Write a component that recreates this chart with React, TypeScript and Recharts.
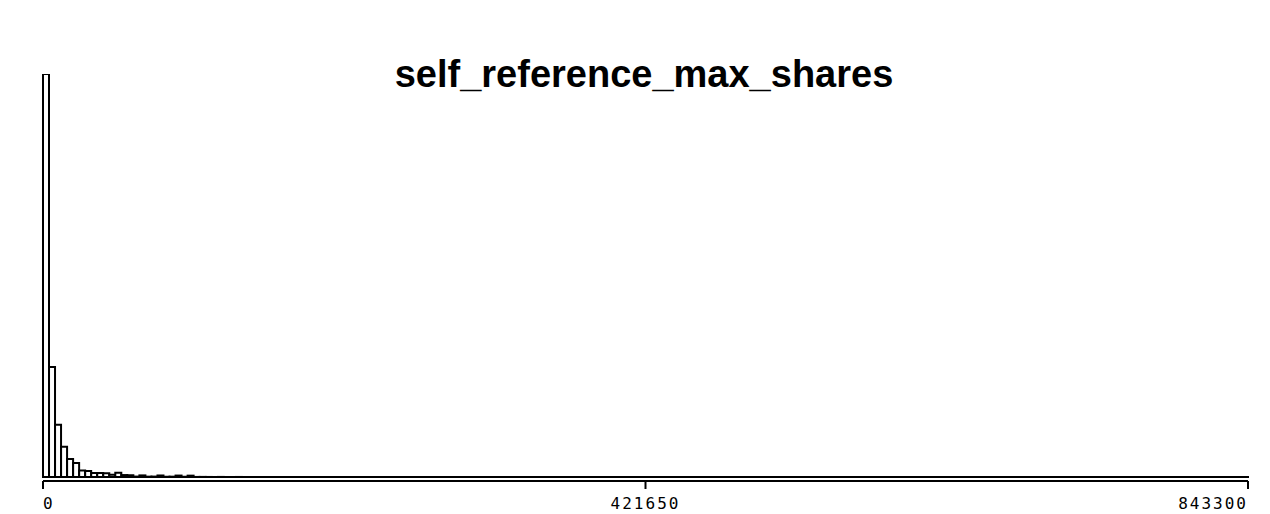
import React from 'react';
import { BarChart, Bar, XAxis, YAxis, ReferenceLine } from 'recharts';

const title = 'self_reference_max_shares';

// histogram counts, 200 bins over [0, 843300]
const counts: number[] = [
  23800, 6500, 3080, 1780, 1070, 830, 380, 350, 240, 230,
  225, 130, 245, 115, 110, 25, 95, 20, 25, 90,
  15, 20, 85, 15, 80, 4, 6, 3, 2, 5,
  2, 1, 3, 1, 2, 1, 2, 1, 1, 1,
  1, 2, 1, 1, 1, 1, 1, 1, 0, 1,
  1, 0, 1, 1, 0, 1, 0, 0, 1, 0,
  1, 0, 0, 1, 0, 0, 1, 0, 0, 0,
  1, 0, 0, 0, 1, 0, 0, 0, 0, 1,
  0, 0, 0, 0, 0, 1, 0, 0, 0, 0,
  0, 0, 1, 0, 0, 0, 0, 0, 0, 0,
  0, 0, 0, 0, 0, 0, 1, 0, 0, 0,
  0, 0, 0, 0, 0, 0, 0, 0, 0, 0,
  0, 0, 0, 0, 0, 0, 0, 1, 0, 0,
  0, 0, 0, 0, 0, 0, 0, 0, 0, 0,
  0, 0, 0, 0, 0, 0, 0, 0, 0, 0,
  0, 0, 0, 0, 0, 0, 0, 0, 0, 0,
  0, 0, 0, 0, 0, 0, 0, 0, 0, 0,
  0, 0, 0, 0, 0, 0, 0, 0, 0, 0,
  0, 0, 0, 0, 0, 0, 0, 0, 0, 0,
  0, 0, 0, 0, 0, 0, 0, 0, 0, 1,
];

// tick positions given as bin indices (left edge of bin 0, left edge of bin 100, right edge of bin 199)
const tickBins = [0, 100, 199];
const tickLabels = ['0', '421650', '843300'];

const data = counts.map((c, i) => ({ bin: i, count: c }));

const W = 1270;
const H = 514;
const M = { top: 74, right: 22, left: 43, bottom: 0 };
const plotW = W - M.left - M.right;
const band = plotW / counts.length;
const yMax = counts[0];
const yMin = -Math.round((yMax * 4) / 403);

const Tick = (props: any) => {
  const { x, y, index } = props;
  const last = index === tickBins.length - 1;
  const anchor = index === 0 ? 'start' : last ? 'end' : 'middle';
  const tx = last ? x + band / 2 : x - band / 2;
  return (
    <g>
      <line x1={tx} y1={y} x2={tx} y2={y + 8} stroke="#000" strokeWidth={2} />
      <text
        x={tx}
        y={y + 17}
        dy="0.71em"
        textAnchor={anchor}
        fontFamily="DejaVu Sans Mono"
        fontSize={16}
        letterSpacing={2}
        fill="#000"
      >
        {tickLabels[index]}
      </text>
    </g>
  );
};

export default function App() {
  return (
    <div style={{ position: 'absolute', left: 0, top: 0, width: W, height: H, background: '#fff' }}>
      <BarChart
        width={W}
        height={H}
        data={data}
        margin={M}
        barCategoryGap={0}
        barGap={0}
      >
        <XAxis
          dataKey="bin"
          type="category"
          ticks={tickBins}
          interval={0}
          height={33}
          axisLine={{ stroke: '#000', strokeWidth: 2 }}
          tickLine={false}
          tickSize={0}
          tickMargin={0}
          tick={<Tick />}
        />
        <YAxis hide type="number" domain={[yMin, yMax]} allowDataOverflow />
        <Bar
          dataKey="count"
          fill="#fff"
          stroke="#000"
          strokeWidth={2}
          isAnimationActive={false}
        />
        <ReferenceLine y={0} stroke="#000" strokeWidth={2} />
      </BarChart>
      <svg
        width={W}
        height={H}
        style={{ position: 'absolute', left: 0, top: 0, pointerEvents: 'none' }}
      >
        <text
          x={644}
          y={87}
          textAnchor="middle"
          fontFamily="Liberation Sans, Arial, sans-serif"
          fontWeight="bold"
          fontSize={38}
          fill="#000"
        >
          {title}
        </text>
      </svg>
    </div>
  );
}
